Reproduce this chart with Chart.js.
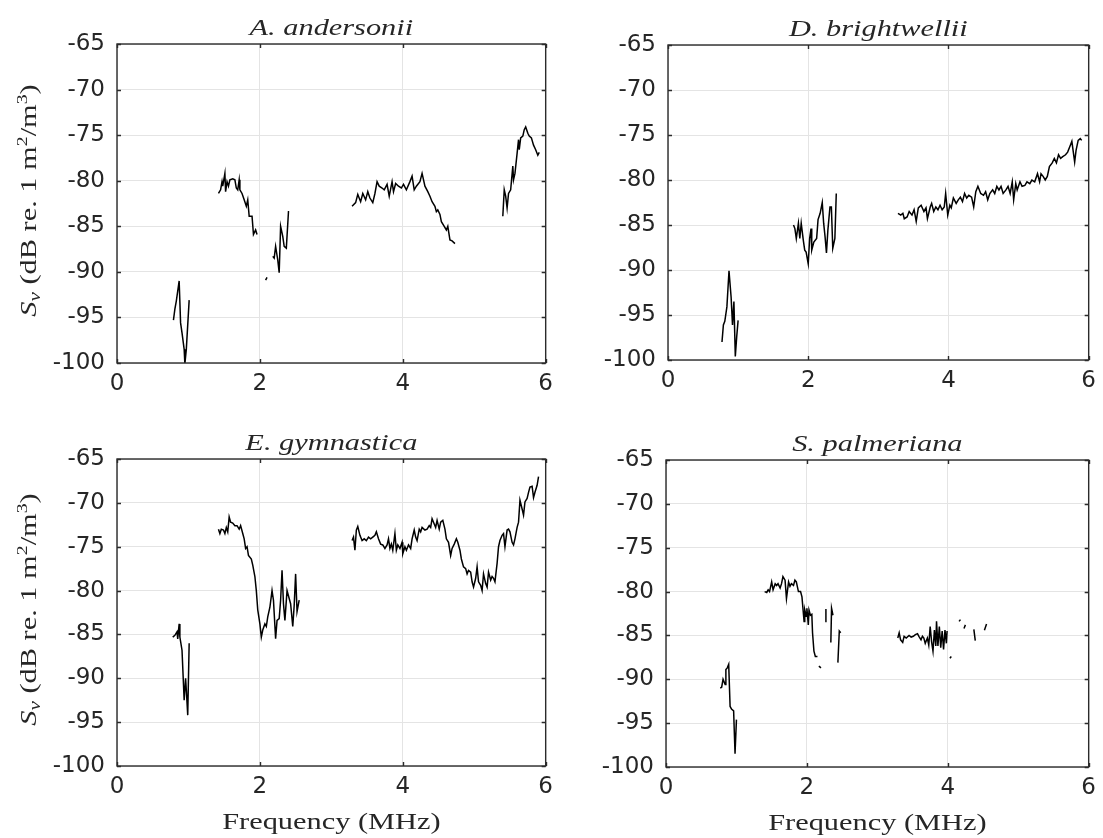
<!DOCTYPE html>
<html>
<head>
<meta charset="utf-8">
<title>Volume backscattering strength by species</title>
<script src="https://cdn.jsdelivr.net/npm/chart.js@4.4.1/dist/chart.umd.min.js"></script>
<style>
  body { margin: 0; background: #fff; }
  #fig { position: relative; width: 1103px; height: 838px; background: #fff; }
  #fig canvas { position: absolute; }
</style>
</head>
<body>
<div id="fig">
  <canvas id="pA" width="560" height="412" style="left:0;top:0"></canvas>
  <canvas id="pB" width="543" height="412" style="left:560px;top:0"></canvas>
  <canvas id="pC" width="560" height="426" style="left:0;top:412px"></canvas>
  <canvas id="pD" width="543" height="426" style="left:560px;top:412px"></canvas>
</div>
<script>
// axis ticks
const freqTicks = [0, 2, 4, 6];
const svTicks = [-100, -95, -90, -85, -80, -75, -70, -65];

// Sv spectra per species, null marks a break between frequency bands
const andersoniiFreq = [
  0.79, 0.81, 0.83, 0.87, 0.89, 0.91, 0.94, 0.95, 0.97, 1.01, null,
  1.42, 1.45, 1.47, 1.48, 1.51, 1.52, 1.54, 1.56, 1.58, 1.62, 1.65, 1.67, 1.69, 1.71, 1.72, 1.75,
  1.78, 1.81, 1.83, 1.85, 1.89, 1.91, 1.94, 1.96, null,
  2.08, 2.10, null,
  2.18, 2.20, 2.22, 2.25, 2.27, 2.29, 2.32, 2.34, 2.37, 2.40, 2.41, null,
  3.29, 3.34, 3.37, 3.41, 3.44, 3.48, 3.51, 3.54, 3.58, 3.61, 3.64, 3.67, 3.71, 3.74, 3.78, 3.81,
  3.85, 3.87, 3.90, 3.94, 3.98, 4.01, 4.05, 4.10, 4.13, 4.16, 4.19, 4.24, 4.27, 4.31, 4.35, 4.38,
  4.41, 4.45, 4.47, 4.49, 4.52, 4.54, 4.58, 4.61, 4.63, 4.66, 4.69, 4.73, null,
  5.40, 5.42, 5.44, 5.46, 5.48, 5.51, 5.54, 5.55, 5.57, 5.60, 5.62, 5.63, 5.65, 5.68, 5.70, 5.72,
  5.75, 5.77, 5.80, 5.83, 5.86, 5.89, 5.91
];
const andersoniiSv = [
  -95.3, -94.1, -93.2, -91.0, -95.6, -96.7, -98.5, -100.1, -98.5, -93.1, null,
  -81.4, -81.0, -80.1, -80.6, -79.2, -81.2, -80.1, -80.6, -79.9, -79.8, -79.9, -80.8, -81.0, -79.9, -81.0, -81.4,
  -82.1, -82.8, -82.1, -83.9, -83.9, -85.9, -85.4, -85.9, null,
  -90.9, -90.6, null,
  -88.3, -88.5, -87.2, -88.7, -90.1, -85.0, -86.1, -87.2, -87.4, -83.4, -83.4, null,
  -82.8, -82.4, -81.5, -82.3, -81.4, -82.1, -81.2, -81.9, -82.4, -81.4, -80.1, -80.6, -80.8, -81.0, -80.4, -81.7,
  -80.1, -81.2, -80.3, -80.6, -80.8, -80.4, -81.0, -80.1, -79.5, -81.0, -80.6, -80.1, -79.2, -80.6, -81.2, -81.7,
  -82.3, -82.8, -83.4, -83.2, -83.7, -84.5, -85.0, -85.4, -85.0, -86.5, -86.6, -86.9, null,
  -83.9, -81.0, -81.7, -83.0, -81.4, -81.0, -78.4, -79.9, -79.2, -77.0, -75.5, -76.6, -75.3, -75.1, -74.4, -74.1,
  -74.8, -75.1, -75.3, -76.1, -76.6, -77.2, -76.9
];

const brightwelliiFreq = [
  0.77, 0.79, 0.81, 0.84, 0.87, 0.90, 0.92, 0.94, 0.96, 0.98, 1.00, null,
  1.79, 1.81, 1.83, 1.86, 1.88, 1.90, 1.93, 1.95, 1.97, 2.00, 2.02, 2.04, 2.05, 2.08, 2.12, 2.14,
  2.17, 2.20, 2.22, 2.24, 2.26, 2.28, 2.31, 2.33, 2.35, 2.38, 2.40, null,
  3.28, 3.32, 3.35, 3.37, 3.41, 3.44, 3.48, 3.51, 3.54, 3.57, 3.61, 3.65, 3.68, 3.70, 3.74, 3.76,
  3.79, 3.82, 3.85, 3.88, 3.91, 3.94, 3.96, 3.99, 4.02, 4.04, 4.07, 4.11, 4.14, 4.17, 4.20, 4.23,
  4.26, 4.29, 4.33, 4.36, 4.39, 4.42, 4.46, 4.50, 4.53, 4.56, 4.59, 4.63, 4.66, 4.69, 4.72, 4.75,
  4.78, 4.82, 4.85, 4.88, 4.91, 4.93, 4.96, 4.98, 5.02, 5.05, 5.09, 5.12, 5.16, 5.19, 5.23, 5.27,
  5.30, 5.32, 5.35, 5.38, 5.41, 5.44, 5.48, 5.51, 5.54, 5.57, 5.60, 5.63, 5.67, 5.70, 5.74, 5.76,
  5.80, 5.82, 5.85, 5.88, 5.90
];
const brightwelliiSv = [
  -98.0, -96.1, -95.7, -94.1, -90.1, -93.0, -96.1, -93.5, -99.6, -97.4, -95.6, null,
  -85.0, -85.4, -86.5, -84.8, -86.5, -84.8, -86.7, -87.8, -88.0, -89.3, -86.5, -85.4, -87.8, -86.9, -86.5, -84.4,
  -83.7, -82.5, -84.8, -86.3, -88.1, -85.6, -83.0, -83.0, -87.6, -86.5, -81.5, null,
  -83.7, -83.9, -83.7, -84.3, -84.1, -83.5, -83.9, -83.3, -84.6, -83.1, -82.8, -83.5, -83.1, -84.3, -83.0, -82.6,
  -83.5, -83.0, -83.3, -82.8, -83.3, -83.0, -81.5, -83.9, -82.8, -83.1, -82.0, -82.6, -82.2, -81.9, -82.4, -81.5,
  -82.0, -81.7, -81.9, -83.0, -81.3, -80.7, -81.5, -81.7, -81.3, -82.2, -81.5, -81.1, -81.5, -80.7, -81.1, -80.7,
  -81.5, -81.1, -80.7, -81.5, -80.2, -82.2, -80.4, -81.1, -80.2, -80.7, -80.6, -80.2, -80.4, -80.0, -80.2, -79.3,
  -80.2, -79.3, -79.6, -80.0, -79.6, -78.5, -78.1, -77.6, -78.1, -77.2, -77.6, -77.4, -77.2, -76.9, -76.1, -75.7,
  -78.0, -76.7, -75.6, -75.4, -75.6
];

const gymnasticaFreq = [
  0.78, 0.81, 0.84, 0.85, 0.87, 0.88, 0.91, 0.93, 0.94, 0.96, 0.97, 0.99, 1.01, null,
  1.42, 1.44, 1.46, 1.49, 1.51, 1.53, 1.55, 1.57, 1.59, 1.62, 1.65, 1.68, 1.71, 1.73, 1.76, 1.78,
  1.80, 1.82, 1.84, 1.88, 1.90, 1.93, 1.95, 1.97, 2.00, 2.02, 2.04, 2.07, 2.09, 2.11, 2.14, 2.17,
  2.19, 2.22, 2.24, 2.27, 2.29, 2.31, 2.33, 2.35, 2.38, 2.41, 2.43, 2.46, 2.48, 2.50, 2.52, 2.55, null,
  3.29, 3.31, 3.33, 3.35, 3.37, 3.40, 3.43, 3.46, 3.49, 3.52, 3.55, 3.58, 3.61, 3.63, 3.66, 3.69,
  3.72, 3.75, 3.78, 3.80, 3.82, 3.84, 3.86, 3.89, 3.91, 3.93, 3.96, 3.99, 4.00, 4.03, 4.05, 4.08,
  4.11, 4.13, 4.16, 4.18, 4.20, 4.23, 4.25, 4.27, 4.31, 4.34, 4.37, 4.39, 4.41, 4.44, 4.46, 4.48,
  4.51, 4.53, 4.56, 4.59, 4.61, 4.64, 4.67, 4.69, 4.72, 4.75, 4.77, 4.80, 4.82, 4.85, 4.88, 4.90,
  4.92, 4.95, 4.97, 4.99, 5.02, 5.04, 5.06, 5.09, 5.11, 5.13, 5.16, 5.18, 5.20, 5.23, 5.25, 5.27,
  5.29, 5.32, 5.34, 5.36, 5.39, 5.41, 5.43, 5.46, 5.48, 5.50, 5.53, 5.55, 5.57, 5.60, 5.62, 5.64,
  5.67, 5.69, 5.71, 5.74, 5.76, 5.78, 5.81, 5.83, 5.85, 5.88, 5.90
];
const gymnasticaSv = [
  -85.3, -85.1, -84.7, -85.5, -83.8, -85.3, -86.8, -90.6, -92.5, -90.0, -91.3, -94.2, -86.0, null,
  -73.0, -73.5, -73.0, -73.1, -73.5, -72.8, -73.3, -71.6, -72.2, -72.3, -72.6, -72.6, -73.0, -72.6, -73.5, -74.1,
  -75.2, -75.0, -76.0, -76.4, -77.1, -78.4, -80.0, -82.2, -83.8, -85.3, -84.5, -83.8, -84.1, -83.0, -81.9, -80.0,
  -81.1, -85.5, -83.4, -83.2, -81.1, -77.7, -81.5, -83.4, -80.0, -80.9, -81.5, -84.1, -81.7, -78.1, -82.4, -81.1, null,
  -74.3, -73.9, -75.4, -73.1, -72.7, -73.7, -74.3, -74.1, -74.3, -73.9, -74.1, -73.9, -73.7, -73.3, -74.1, -74.7,
  -74.8, -75.2, -74.8, -74.1, -75.2, -74.7, -75.4, -73.5, -75.4, -74.8, -75.2, -74.5, -75.8, -75.0, -75.4, -74.8,
  -75.2, -74.1, -73.1, -73.9, -74.3, -73.0, -73.3, -72.8, -73.1, -73.0, -72.6, -72.8, -71.8, -72.4, -72.8, -72.0,
  -73.0, -72.2, -72.0, -73.0, -74.1, -74.5, -76.0, -75.2, -74.7, -74.1, -74.5, -75.4, -76.4, -77.3, -77.5, -78.1,
  -77.7, -77.9, -79.0, -79.6, -78.6, -77.3, -79.0, -79.4, -80.0, -78.1, -79.2, -79.6, -77.9, -78.8, -78.4, -78.6,
  -79.0, -76.9, -75.0, -74.3, -73.7, -73.5, -75.0, -73.1, -73.0, -73.3, -74.5, -74.8, -74.1, -72.8, -72.2, -69.7,
  -70.7, -71.4, -69.9, -69.5, -68.8, -68.2, -68.1, -69.4, -68.8, -68.0, -67.0
];

const palmerianaFreq = [
  0.77, 0.79, 0.81, 0.84, 0.85, 0.87, 0.89, 0.91, 0.93, 0.96, 0.97, 0.98, 1.00, null,
  1.40, 1.43, 1.45, 1.47, 1.50, 1.52, 1.55, 1.57, 1.59, 1.62, 1.64, 1.66, 1.69, 1.71, 1.74, 1.76,
  1.78, 1.81, 1.83, 1.85, 1.88, 1.91, 1.93, 1.96, 1.97, 1.99, 2.00, 2.02, 2.03, 2.05, 2.07, 2.08,
  2.10, 2.12, 2.15, null,
  2.17, 2.20, null,
  2.26, 2.27, null,
  2.34, 2.35, 2.37, null,
  2.44, 2.46, 2.48, null,
  3.29, 3.31, 3.33, 3.36, 3.38, 3.41, 3.45, 3.48, 3.51, 3.54, 3.57, 3.59, 3.62, 3.64, 3.66, 3.68,
  3.71, 3.73, 3.75, 3.77, 3.79, 3.81, 3.83, 3.84, 3.86, 3.88, 3.90, 3.92, 3.94, 3.96, 3.98, 3.99, null,
  4.03, 4.05, null,
  4.16, 4.18, null,
  4.23, 4.25, null,
  4.37, 4.39, null,
  4.52, 4.55
];
const palmerianaSv = [
  -91.0, -90.9, -90.0, -90.6, -88.9, -88.7, -88.3, -93.1, -93.4, -93.6, -96.1, -98.5, -94.6, null,
  -80.0, -80.1, -79.8, -80.0, -78.9, -79.8, -79.1, -79.3, -79.1, -79.6, -79.1, -78.3, -78.7, -80.8, -78.9, -79.4,
  -79.1, -79.3, -78.7, -78.9, -80.0, -80.0, -80.6, -83.4, -82.1, -82.8, -81.9, -83.8, -82.1, -82.7, -82.6, -84.7,
  -86.8, -87.4, -87.4, null,
  -88.5, -88.7, null,
  -83.4, -82.0, null,
  -85.8, -81.9, -82.7, null,
  -88.1, -84.5, -84.7, null,
  -85.3, -84.7, -85.5, -85.8, -85.1, -85.3, -85.0, -85.2, -85.1, -84.9, -84.8, -85.1, -85.5, -85.1, -85.3, -85.9,
  -85.3, -86.1, -84.0, -85.7, -86.8, -84.4, -86.2, -83.4, -86.2, -84.0, -86.4, -84.5, -86.6, -84.4, -85.9, -84.5, null,
  -87.6, -87.4, null,
  -83.4, -83.2, null,
  -84.2, -83.8, null,
  -84.3, -85.6, null,
  -84.4, -83.7
];

const SANS = '"DejaVu Sans", sans-serif';
const SERIF = '"Liberation Serif", "Times New Roman", serif';
const TEXT = '#262626';
const SERIF_STRETCH = 1.32;

function toPoints(freq, sv) {
  let lastF = 0;
  return freq.map((f, i) => {
    if (f !== null) lastF = f;
    return { x: lastF, y: sv[i] };
  });
}

// draw a run of text pieces (sub/superscripts via dy), centred on cx
function drawRich(ctx, parts, cx, cy, angle) {
  ctx.save();
  ctx.translate(cx, cy);
  ctx.rotate(angle);
  ctx.scale(SERIF_STRETCH, 1);
  let total = 0;
  parts.forEach(p => { ctx.font = p.font; total += ctx.measureText(p.t).width; });
  let x = -total / 2;
  ctx.textAlign = 'left';
  ctx.textBaseline = 'alphabetic';
  ctx.fillStyle = TEXT;
  parts.forEach(p => {
    ctx.font = p.font;
    ctx.fillText(p.t, x, p.dy || 0);
    x += ctx.measureText(p.t).width;
  });
  ctx.restore();
}

const panelDecor = {
  id: 'panelDecor',
  afterDatasetsDraw(chart) {
    const { ctx, chartArea: a, scales } = chart;
    const tl = 4;
    ctx.save();
    ctx.strokeStyle = '#2b2b2b';
    ctx.lineWidth = 1.4;
    ctx.beginPath();
    scales.x.ticks.forEach(t => {
      const px = Math.round(scales.x.getPixelForValue(t.value)) + 0.5;
      ctx.moveTo(px, a.bottom); ctx.lineTo(px, a.bottom - tl);
      ctx.moveTo(px, a.top); ctx.lineTo(px, a.top + tl);
    });
    scales.y.ticks.forEach(t => {
      const py = Math.round(scales.y.getPixelForValue(t.value)) + 0.5;
      ctx.moveTo(a.left, py); ctx.lineTo(a.left + tl, py);
      ctx.moveTo(a.right, py); ctx.lineTo(a.right - tl, py);
    });
    ctx.stroke();
    ctx.strokeRect(a.left, a.top, a.right - a.left, a.bottom - a.top);
    ctx.restore();
  },
  afterDraw(chart, args, opts) {
    const { ctx, chartArea: a } = chart;
    const cx = (a.left + a.right) / 2;
    drawRich(ctx, [{ t: opts.title, font: `italic 23px ${SERIF}` }], cx, a.top - 9, 0);
    if (opts.xLabel) {
      drawRich(ctx, [{ t: 'Frequency (MHz)', font: `23px ${SERIF}` }], cx, a.bottom + 63, 0);
    }
    if (opts.yLabel) {
      drawRich(ctx, [
        { t: 'S', font: `italic 23px ${SERIF}` },
        { t: 'v', font: `italic 16px ${SERIF}`, dy: 4 },
        { t: ' (dB re. 1 m', font: `23px ${SERIF}` },
        { t: '2', font: `15px ${SERIF}`, dy: -9 },
        { t: '/m', font: `23px ${SERIF}` },
        { t: '3', font: `15px ${SERIF}`, dy: -9 },
        { t: ')', font: `23px ${SERIF}` }
      ], 36, (a.top + a.bottom) / 2 - 3, -Math.PI / 2);
    }
  }
};

const panels = [
  { id: 'pA', title: 'A. andersonii', freq: andersoniiFreq, sv: andersoniiSv,
    w: 560, h: 412, area: { l: 117, t: 44, r: 548, b: 363 }, yLabel: true, xLabel: false },
  { id: 'pB', title: 'D. brightwellii', freq: brightwelliiFreq, sv: brightwelliiSv,
    w: 543, h: 412, area: { l: 108, t: 45, r: 530, b: 360 }, yLabel: false, xLabel: false },
  { id: 'pC', title: 'E. gymnastica', freq: gymnasticaFreq, sv: gymnasticaSv,
    w: 560, h: 426, area: { l: 117, t: 47, r: 547, b: 354 }, yLabel: true, xLabel: true },
  { id: 'pD', title: 'S. palmeriana', freq: palmerianaFreq, sv: palmerianaSv,
    w: 543, h: 426, area: { l: 106, t: 48, r: 529, b: 355 }, yLabel: false, xLabel: true }
];

const gridColor = '#e4e4e4';

panels.forEach(p => {
  const ctx = document.getElementById(p.id).getContext('2d');
  new Chart(ctx, {
    type: 'line',
    data: {
      datasets: [{
        data: toPoints(p.freq, p.sv),
        borderColor: '#000',
        borderWidth: 1.5,
        pointRadius: 0,
        tension: 0,
        spanGaps: false,
        fill: false
      }]
    },
    options: {
      responsive: false,
      animation: false,
      devicePixelRatio: 1,
      layout: { padding: { top: p.area.t, right: p.w - p.area.r, left: 0, bottom: 0 } },
      plugins: {
        legend: { display: false },
        tooltip: { enabled: false },
        panelDecor: { title: p.title, xLabel: p.xLabel, yLabel: p.yLabel }
      },
      scales: {
        x: {
          type: 'linear',
          min: freqTicks[0],
          max: freqTicks[freqTicks.length - 1],
          afterBuildTicks: s => { s.ticks = freqTicks.map(v => ({ value: v })); },
          ticks: { color: TEXT, font: { family: SANS, size: 23 }, padding: 7, maxRotation: 0 },
          grid: { color: gridColor, lineWidth: 1, drawTicks: false },
          border: { display: false },
          afterFit: s => { s.height = p.h - p.area.b; }
        },
        y: {
          type: 'linear',
          min: svTicks[0],
          max: svTicks[svTicks.length - 1],
          afterBuildTicks: s => { s.ticks = svTicks.map(v => ({ value: v })); },
          ticks: { color: TEXT, font: { family: SANS, size: 23 }, padding: 12 },
          grid: { color: gridColor, lineWidth: 1, drawTicks: false },
          border: { display: false },
          afterFit: s => { s.width = p.area.l; }
        }
      }
    },
    plugins: [panelDecor]
  });
});
</script>
</body>
</html>
